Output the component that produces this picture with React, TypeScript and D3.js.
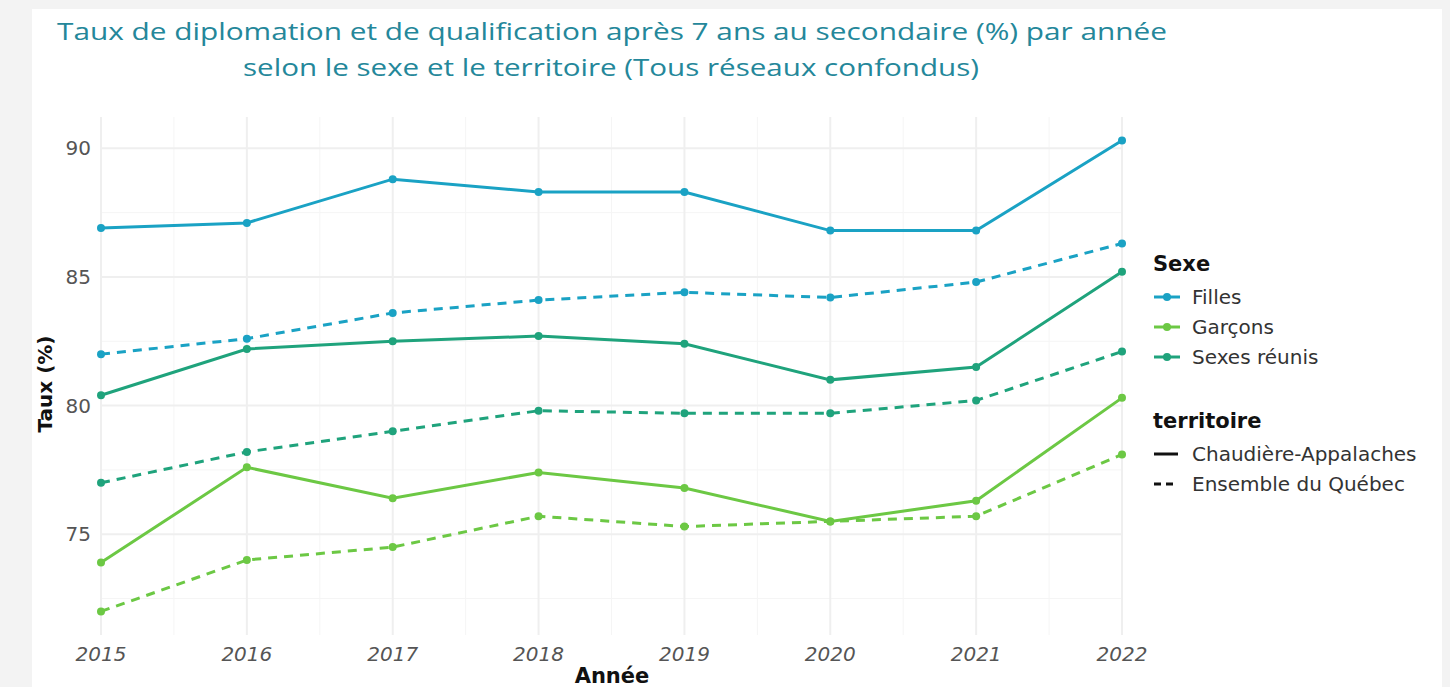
import * as d3 from 'd3'

const years = [2015, 2016, 2017, 2018, 2019, 2020, 2021, 2022]
const sexes = ['Filles', 'Garçons', 'Sexes réunis']
const territoires = ['Chaudière-Appalaches', 'Ensemble du Québec']
const yTicks = [75, 80, 85, 90]

const fillesCA = [86.9, 87.1, 88.8, 88.3, 88.3, 86.8, 86.8, 90.3]
const fillesQC = [82.0, 82.6, 83.6, 84.1, 84.4, 84.2, 84.8, 86.3]
const garconsCA = [73.9, 77.6, 76.4, 77.4, 76.8, 75.5, 76.3, 80.3]
const garconsQC = [72.0, 74.0, 74.5, 75.7, 75.3, 75.5, 75.7, 78.1]
const reunisCA = [80.4, 82.2, 82.5, 82.7, 82.4, 81.0, 81.5, 85.2]
const reunisQC = [77.0, 78.2, 79.0, 79.8, 79.7, 79.7, 80.2, 82.1]

const colors: Record<string, string> = {
  Filles: '#1aa2c4',
  'Garçons': '#6cc844',
  'Sexes réunis': '#1fa37c',
}

const series = [
  { sexe: 'Filles', territoire: territoires[0], values: fillesCA },
  { sexe: 'Filles', territoire: territoires[1], values: fillesQC },
  { sexe: 'Garçons', territoire: territoires[0], values: garconsCA },
  { sexe: 'Garçons', territoire: territoires[1], values: garconsQC },
  { sexe: 'Sexes réunis', territoire: territoires[0], values: reunisCA },
  { sexe: 'Sexes réunis', territoire: territoires[1], values: reunisQC },
]

const W = 1450
const H = 687
const plot = { left: 101, right: 1122, top: 117, bottom: 635 }
const font = '"DejaVu Sans", sans-serif'

export default function App() {
  const allVals = series.flatMap((s) => s.values)
  const [lo, hi] = d3.extent(allVals) as [number, number]
  const pad = (hi - lo) * 0.05
  const x = d3.scaleLinear().domain([2015, 2022]).range([plot.left, plot.right])
  const y = d3.scaleLinear().domain([lo - pad, hi + pad]).range([plot.bottom, plot.top])
  const line = d3.line<number>().x((_, i) => x(years[i])).y((d) => y(d))

  const minorY = d3.range(72.5, 91, 5)
  const minorX = years.slice(0, -1).map((yr) => yr + 0.5)

  return (
    <svg width={W} height={H} style={{ position: 'absolute', left: 0, top: 0 }}>
      <rect width={W} height={H} fill="#f3f3f3" />
      <rect x={32} y={9} width={1410} height={H} fill="#fff" />

      <g fill="#24879a" fontFamily='"Open Sans", sans-serif' fontSize={24} textAnchor="middle">
        <text x={612} y={40} textLength={1110} lengthAdjust="spacingAndGlyphs">
          Taux de diplomation et de qualification après 7 ans au secondaire (%) par année
        </text>
        <text x={611} y={76} textLength={736} lengthAdjust="spacingAndGlyphs">
          selon le sexe et le territoire (Tous réseaux confondus)
        </text>
      </g>

      <g>
        {minorY.map((v) => (
          <line key={'my' + v} x1={plot.left} x2={plot.right} y1={y(v)} y2={y(v)} stroke="#f5f5f5" strokeWidth={1} />
        ))}
        {minorX.map((v) => (
          <line key={'mx' + v} x1={x(v)} x2={x(v)} y1={plot.top} y2={plot.bottom} stroke="#f5f5f5" strokeWidth={1} />
        ))}
        {yTicks.map((v) => (
          <line key={'y' + v} x1={plot.left} x2={plot.right} y1={y(v)} y2={y(v)} stroke="#efefef" strokeWidth={2} />
        ))}
        {years.map((v) => (
          <line key={'x' + v} x1={x(v)} x2={x(v)} y1={plot.top} y2={plot.bottom} stroke="#efefef" strokeWidth={2} />
        ))}
      </g>

      <g>
        {series.map((s) => (
          <g key={s.sexe + s.territoire}>
            <path
              d={line(s.values) || ''}
              fill="none"
              stroke={colors[s.sexe]}
              strokeWidth={3}
              strokeDasharray={s.territoire === territoires[1] ? '9 7' : undefined}
            />
            {s.values.map((v, i) => (
              <circle key={i} cx={x(years[i])} cy={y(v)} r={4} fill={colors[s.sexe]} />
            ))}
          </g>
        ))}
      </g>

      <g fontFamily={font} fill="#555" fontSize={20} textAnchor="end">
        {yTicks.map((v) => (
          <text key={v} x={91} y={y(v) + 7}>{v}</text>
        ))}
      </g>
      <g fontFamily={font} fill="#555" fontSize={20} fontStyle="italic" textAnchor="middle">
        {years.map((v) => (
          <text key={v} x={x(v)} y={661}>{v}</text>
        ))}
      </g>
      <text x={612} y={683} fontFamily={font} fontSize={21} fontWeight="bold" textAnchor="middle" fill="#111">
        Année
      </text>
      <text
        transform={`translate(52,${(plot.top + plot.bottom) / 2 + 8}) rotate(-90)`}
        fontFamily={font}
        fontSize={20}
        fontWeight="bold"
        textAnchor="middle"
        fill="#111"
      >
        Taux (%)
      </text>

      <g fontFamily={font} fontSize={20} fill="#333">
        <text x={1153} y={271} fontWeight="bold" fontSize={21} fill="#111">Sexe</text>
        {sexes.map((s, i) => {
          const cy = 297 + i * 30
          return (
            <g key={s}>
              <line x1={1154} x2={1180} y1={cy} y2={cy} stroke={colors[s]} strokeWidth={3} />
              <circle cx={1167} cy={cy} r={4} fill={colors[s]} />
              <text x={1192} y={cy + 7}>{s}</text>
            </g>
          )
        })}
        <text x={1153} y={428} fontWeight="bold" fontSize={21} fill="#111">territoire</text>
        {territoires.map((t, i) => {
          const cy = 454 + i * 30
          return (
            <g key={t}>
              <line
                x1={1154}
                x2={1178}
                y1={cy}
                y2={cy}
                stroke="#111"
                strokeWidth={3}
                strokeDasharray={i === 1 ? '7 5' : undefined}
              />
              <text x={1192} y={cy + 7}>{t}</text>
            </g>
          )
        })}
      </g>
    </svg>
  )
}
